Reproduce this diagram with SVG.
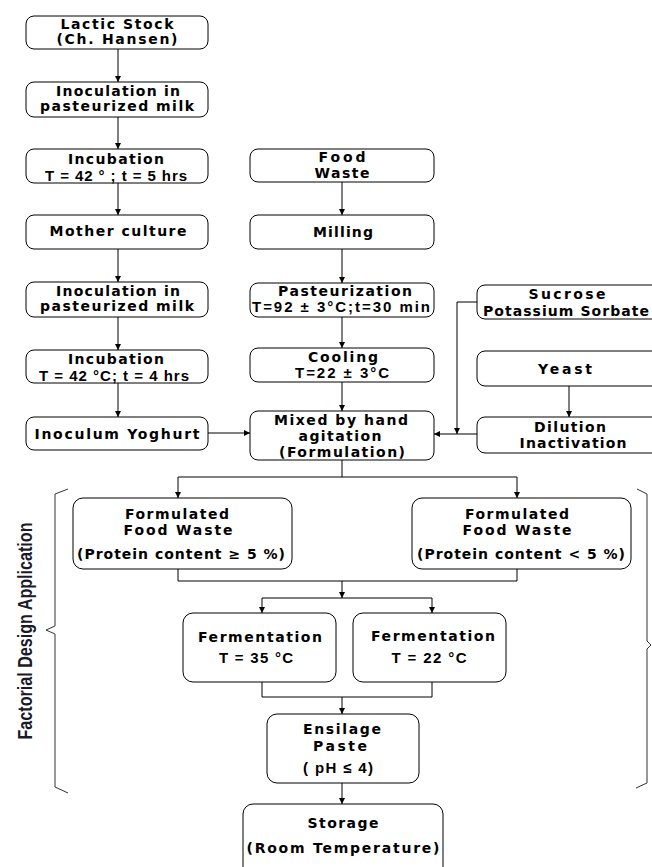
<svg xmlns="http://www.w3.org/2000/svg" width="652" height="867" viewBox="0 0 652 867">
<style>
.box{fill:#fff;stroke:#000;stroke-width:1}
.w{font-family:"DejaVu Sans",Verdana,sans-serif;font-weight:bold;font-size:14px;text-anchor:middle;fill:#000}
.n{font-family:"Liberation Sans",Arial,sans-serif;font-weight:bold;font-size:15px;text-anchor:middle;fill:#000}
.c{fill:none;stroke:#000;stroke-width:1}
.br{fill:none;stroke:#333;stroke-width:1}
.lab{font-family:"Liberation Sans",Arial,sans-serif;font-weight:bold;font-size:21px;text-anchor:middle;fill:#1a1a2a}
</style>
<defs>
<marker id="ah" markerUnits="userSpaceOnUse" markerWidth="8" markerHeight="8" refX="6" refY="3" orient="auto">
<path d="M0,0 L6,3 L0,6 Z" fill="#000"/>
</marker>
</defs>
<rect width="652" height="867" fill="#fff"/>

<g id="connectors">
<path class="c" d="M118,49 V82" marker-end="url(#ah)"/>
<path class="c" d="M118,117 V149" marker-end="url(#ah)"/>
<path class="c" d="M118,183 V215" marker-end="url(#ah)"/>
<path class="c" d="M118,249 V282" marker-end="url(#ah)"/>
<path class="c" d="M118,317 V350" marker-end="url(#ah)"/>
<path class="c" d="M118,383 V417" marker-end="url(#ah)"/>
<path class="c" d="M342,182 V215" marker-end="url(#ah)"/>
<path class="c" d="M342,249 V283" marker-end="url(#ah)"/>
<path class="c" d="M342,317 V348" marker-end="url(#ah)"/>
<path class="c" d="M342,382 V411" marker-end="url(#ah)"/>
<path class="c" d="M208,433 H250" marker-end="url(#ah)"/>
<path class="c" d="M477,434 H434" marker-end="url(#ah)"/>
<path class="c" d="M477,302 H457 V434" marker-end="url(#ah)"/>
<path class="c" d="M569,386 V417" marker-end="url(#ah)"/>
<path class="c" d="M342,460 V477"/>
<path class="c" d="M178,477 H517"/>
<path class="c" d="M178,477 V498" marker-end="url(#ah)"/>
<path class="c" d="M517,477 V498" marker-end="url(#ah)"/>
<path class="c" d="M178,569 V581 H517 V569"/>
<path class="c" d="M342,581 V598" marker-end="url(#ah)"/>
<path class="c" d="M262,598 H432"/>
<path class="c" d="M262,598 V613" marker-end="url(#ah)"/>
<path class="c" d="M432,598 V613" marker-end="url(#ah)"/>
<path class="c" d="M262,682 V697 H432 V682"/>
<path class="c" d="M342,697 V714" marker-end="url(#ah)"/>
<path class="c" d="M342,783 V804" marker-end="url(#ah)"/>
</g>

<g id="lactic"><rect class="box" x="26" y="16" width="182" height="33" rx="8"/>
<text class="w" x="117" y="29" textLength="113" lengthAdjust="spacing">Lactic Stock</text>
<text class="w" x="117" y="44" textLength="121" lengthAdjust="spacing">(Ch. Hansen)</text></g>

<g id="inoc1"><rect class="box" x="26" y="82" width="182" height="35" rx="8"/>
<text class="w" x="118" y="96" textLength="124" lengthAdjust="spacing">Inoculation in</text>
<text class="w" x="117" y="111" textLength="154" lengthAdjust="spacing">pasteurized  milk</text></g>

<g id="incub1"><rect class="box" x="26" y="149" width="182" height="34" rx="8"/>
<text class="w" x="116" y="164" textLength="96" lengthAdjust="spacing">Incubation</text>
<text class="n" x="116" y="181" textLength="142" lengthAdjust="spacing">T = 42 ° ; t = 5 hrs</text></g>

<g id="mother"><rect class="box" x="26" y="215" width="182" height="34" rx="8"/>
<text class="w" x="118" y="236" textLength="137" lengthAdjust="spacing">Mother culture</text></g>

<g id="inoc2"><rect class="box" x="26" y="282" width="182" height="35" rx="8"/>
<text class="w" x="118" y="296" textLength="124" lengthAdjust="spacing">Inoculation in</text>
<text class="w" x="117" y="311" textLength="154" lengthAdjust="spacing">pasteurized  milk</text></g>

<g id="incub2"><rect class="box" x="26" y="350" width="182" height="33" rx="8"/>
<text class="w" x="116" y="364" textLength="96" lengthAdjust="spacing">Incubation</text>
<text class="n" x="114" y="381" textLength="150" lengthAdjust="spacing">T = 42 °C; t = 4 hrs</text></g>

<g id="inoculum"><rect class="box" x="26" y="417" width="182" height="33" rx="8"/>
<text class="w" x="117" y="439" textLength="165" lengthAdjust="spacing">Inoculum Yoghurt</text></g>

<g id="food"><rect class="box" x="250" y="149" width="184" height="33" rx="8"/>
<text class="w" x="342" y="162" textLength="47" lengthAdjust="spacing">Food</text>
<text class="w" x="342" y="178" textLength="55" lengthAdjust="spacing">Waste</text></g>

<g id="milling"><rect class="box" x="250" y="215" width="184" height="34" rx="8"/>
<text class="w" x="343" y="237" textLength="60" lengthAdjust="spacing">Milling</text></g>

<g id="pasteurization"><rect class="box" x="250" y="283" width="184" height="34" rx="8"/>
<text class="w" x="345" y="296" textLength="134" lengthAdjust="spacing">Pasteurization</text>
<text class="n" x="341" y="312" textLength="178" lengthAdjust="spacing">T=92 ± 3°C;t=30 min</text></g>

<g id="cooling"><rect class="box" x="250" y="348" width="184" height="34" rx="8"/>
<text class="w" x="343" y="362" textLength="70" lengthAdjust="spacing">Cooling</text>
<text class="n" x="342" y="378" textLength="94" lengthAdjust="spacing">T=22 ± 3°C</text></g>

<g id="mixed"><rect class="box" x="250" y="411" width="184" height="49" rx="8"/>
<text class="w" x="341" y="425" textLength="134" lengthAdjust="spacing">Mixed by hand</text>
<text class="w" x="340" y="441" textLength="83" lengthAdjust="spacing">agitation</text>
<text class="w" x="342" y="457" textLength="126" lengthAdjust="spacing">(Formulation)</text></g>

<g id="sucrose"><rect class="box" x="477" y="285" width="184" height="34" rx="8"/>
<text class="w" x="567" y="299" textLength="77" lengthAdjust="spacing">Sucrose</text>
<text class="w" x="566" y="316" textLength="166" lengthAdjust="spacing">Potassium Sorbate</text></g>

<g id="yeast"><rect class="box" x="477" y="351" width="184" height="35" rx="8"/>
<text class="w" x="565" y="374" textLength="54" lengthAdjust="spacing">Yeast</text></g>

<g id="dilution"><rect class="box" x="477" y="417" width="184" height="36" rx="8"/>
<text class="w" x="570" y="432" textLength="72" lengthAdjust="spacing">Dilution</text>
<text class="w" x="573" y="448" textLength="107" lengthAdjust="spacing">Inactivation</text></g>

<g id="formulated-high"><rect class="box" x="73" y="498" width="219" height="71" rx="10"/>
<text class="w" x="177" y="519" textLength="104" lengthAdjust="spacing">Formulated</text>
<text class="w" x="178" y="535" textLength="109" lengthAdjust="spacing">Food Waste</text>
<text class="w" x="181" y="559" textLength="208" lengthAdjust="spacing">(Protein content ≥ 5 %)</text></g>

<g id="formulated-low"><rect class="box" x="412" y="498" width="219" height="71" rx="10"/>
<text class="w" x="517" y="519" textLength="104" lengthAdjust="spacing">Formulated</text>
<text class="w" x="517" y="535" textLength="109" lengthAdjust="spacing">Food Waste</text>
<text class="w" x="521" y="559" textLength="208" lengthAdjust="spacing">(Protein content &lt; 5 %)</text></g>

<g id="ferm35"><rect class="box" x="183" y="613" width="153" height="69" rx="10"/>
<text class="w" x="260" y="642" textLength="124" lengthAdjust="spacing">Fermentation</text>
<text class="n" x="256" y="663" textLength="74" lengthAdjust="spacing">T = 35 °C</text></g>

<g id="ferm22"><rect class="box" x="353" y="613" width="153" height="69" rx="10"/>
<text class="w" x="433" y="641" textLength="124" lengthAdjust="spacing">Fermentation</text>
<text class="n" x="429" y="663" textLength="75" lengthAdjust="spacing">T = 22 °C</text></g>

<g id="ensilage"><rect class="box" x="267" y="714" width="152" height="69" rx="10"/>
<text class="w" x="342" y="734" textLength="78" lengthAdjust="spacing">Ensilage</text>
<text class="w" x="340" y="751" textLength="54" lengthAdjust="spacing">Paste</text>
<text class="n" x="338" y="773" textLength="70" lengthAdjust="spacing">( pH ≤ 4)</text></g>

<g id="storage"><rect class="box" x="243" y="804" width="200" height="90" rx="10"/>
<text class="w" x="343" y="828" textLength="71" lengthAdjust="spacing">Storage</text>
<text class="w" x="343" y="853" textLength="193" lengthAdjust="spacing">(Room Temperature)</text></g>

<g id="factorial-brace">
<path class="br" d="M68,489 L55,494 L55,626 L46,630 L55,634 L55,787 L68,793"/>
<path class="br" d="M637,489 L647,494 L647,641 L651,645 L647,649 L647,783 L636,788"/>
<text class="lab" transform="translate(32,631) rotate(-90)" textLength="217" lengthAdjust="spacingAndGlyphs">Factorial Design Application</text>
</g>
</svg>
